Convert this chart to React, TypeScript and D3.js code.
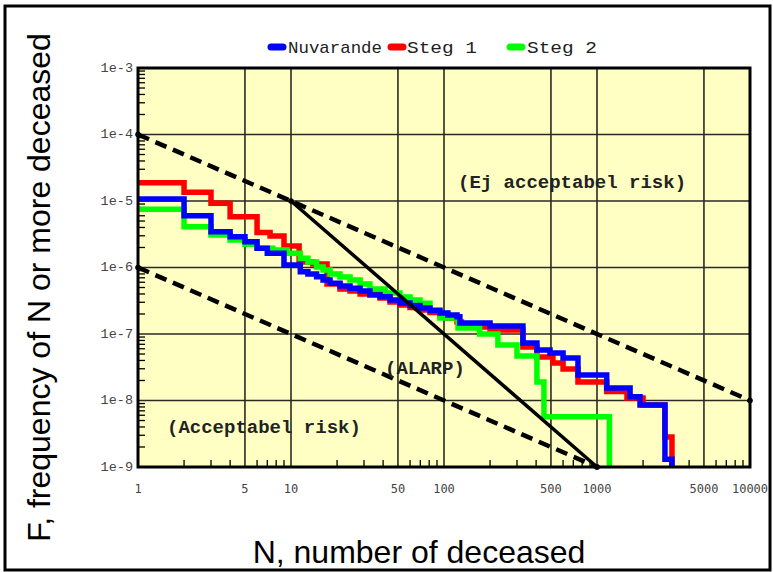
import React from "react";
import * as d3 from "d3";

const N_BLUE = [1, 2, 3, 4, 5, 6, 7, 9, 11.5, 12.9, 14.7, 16.2, 18, 20.9, 24.3, 28.3, 32.8, 38.2, 44.4, 51.5, 60, 69.7, 81, 94, 106, 121.7, 127, 200, 328, 405, 493, 600, 751, 1157, 1645, 1910, 2780, 3090];
const F_BLUE = [1.07e-5, 6.0e-6, 3.45e-6, 2.9e-6, 2.44e-6, 1.95e-6, 1.64e-6, 1.09e-6, 8.65e-7, 7.98e-7, 7.27e-7, 6.49e-7, 5.78e-7, 5.27e-7, 4.86e-7, 4.43e-7, 3.86e-7, 3.64e-7, 3.25e-7, 2.92e-7, 2.68e-7, 2.46e-7, 2.25e-7, 2.07e-7, 1.93e-7, 1.82e-7, 1.46e-7, 1.32e-7, 7.33e-8, 5.75e-8, 5.18e-8, 4.36e-8, 2.42e-8, 1.54e-8, 1.14e-8, 8.55e-9, 1.31e-9, 1e-9];

const N_RED = [1, 2, 3, 4, 6, 7.3, 9, 11.3, 13.9, 17.2, 20.9, 24.3, 28.3, 38.2, 44.4, 51.5, 60, 69.7, 81, 94, 106, 121.7, 130, 200, 328, 405, 515, 600, 751, 1157, 1570, 2000, 2780, 3090];
const F_RED = [1.88e-5, 1.35e-5, 9.23e-6, 5.81e-6, 3.36e-6, 2.98e-6, 2.1e-6, 1.21e-6, 1.13e-6, 5.65e-7, 4.75e-7, 4.43e-7, 4.0e-7, 3.48e-7, 3.03e-7, 2.73e-7, 2.5e-7, 2.3e-7, 2.1e-7, 1.93e-7, 1.74e-7, 1.51e-7, 1.27e-7, 1.15e-7, 6.38e-8, 4.51e-8, 3.66e-8, 2.98e-8, 1.9e-8, 1.36e-8, 1.09e-8, 8.55e-9, 2.82e-9, 1e-9];

const N_GREEN = [1, 2, 3, 4, 5, 6, 7.6, 9.4, 11.5, 12.9, 14.7, 16.2, 18, 20.9, 24.3, 28.3, 32.8, 41.2, 51.5, 60, 69.7, 81, 94, 123.5, 171, 225, 300, 405, 450, 1205];
const F_GREEN = [7.5e-6, 4.11e-6, 3.08e-6, 2.59e-6, 2.23e-6, 1.95e-6, 1.83e-6, 1.64e-6, 1.38e-6, 1.21e-6, 1.02e-6, 9.16e-7, 7.98e-7, 7.19e-7, 6.49e-7, 5.65e-7, 4.75e-7, 4.14e-7, 3.6e-7, 3.25e-7, 2.9e-7, 2.3e-7, 1.74e-7, 1.23e-7, 1.0e-7, 6.84e-8, 4.67e-8, 1.9e-8, 5.7e-9, 1e-9];

const SERIES_NAMES = ["Nuvarande", "Steg 1", "Steg 2"];
const SERIES_COLORS = ["#0000ff", "#ff0000", "#00ff00"];

const X_TICKS = [1, 5, 10, 50, 100, 500, 1000, 5000, 10000];
const X_TICK_LABELS = ["1", "5", "10", "50", "100", "500", "1000", "5000", "10000"];
const Y_TICKS = [1e-3, 1e-4, 1e-5, 1e-6, 1e-7, 1e-8, 1e-9];
const Y_TICK_LABELS = ["1e-3", "1e-4", "1e-5", "1e-6", "1e-7", "1e-8", "1e-9"];

// criteria lines [N, F]
const UPPER_LINE = [[1, 1e-4], [10000, 1e-8]];
const LOWER_LINE = [[1, 1e-6], [1000, 1e-9]];
const SOLID_LINE = [[10, 1e-5], [1000, 1e-9]];

const W = 773, H = 572;
const L = 138, R = 750, T = 68, B = 467;

export default function App() {
  const x = d3.scaleLog().domain([1, 10000]).range([L, R]);
  const y = d3.scaleLog().domain([1e-9, 1e-3]).range([B, T]);
  const step = d3.line<number[]>().x(d => x(d[0])).y(d => y(d[1])).curve(d3.curveStepAfter);
  const straight = d3.line<number[]>().x(d => x(d[0])).y(d => y(d[1]));

  const series = [
    { n: N_RED, f: F_RED, c: SERIES_COLORS[1] },
    { n: N_GREEN, f: F_GREEN, c: SERIES_COLORS[2] },
    { n: N_BLUE, f: F_BLUE, c: SERIES_COLORS[0] },
  ];

  const minorX: number[] = [];
  for (let d = 1; d < 10000; d *= 10) for (let k = 2; k <= 9; k++) if (k !== 5) minorX.push(d * k);
  const minorY: number[] = [];
  for (let d = 1e-9; d < 1e-3 * 0.99; d *= 10) for (let k = 2; k <= 9; k++) minorY.push(d * k);

  const gridX = [5, 10, 50, 100, 500, 1000, 5000];
  const gridY = [1e-4, 1e-5, 1e-6, 1e-7, 1e-8];

  const legend = [
    { i: 0, mx: 268, tx: 288, tl: 94 },
    { i: 1, mx: 388, tx: 407, tl: 70 },
    { i: 2, mx: 507, tx: 527, tl: 70 },
  ];

  return (
    <svg width={W} height={H} style={{ position: "absolute", left: 0, top: 0, display: "block", background: "#fff" }}>
      <rect x={5} y={6} width={765} height={564} fill="none" stroke="#000" strokeWidth={3} />
      <rect x={L} y={T} width={R - L} height={B - T} fill="#ffffc4" />
      {gridX.map(v => (
        <line key={"gx" + v} x1={x(v)} x2={x(v)} y1={T} y2={B} stroke="#2a2a20" strokeWidth={1.6} />
      ))}
      {gridY.map(v => (
        <line key={"gy" + v} x1={L} x2={R} y1={y(v)} y2={y(v)} stroke="#2a2a20" strokeWidth={1.6} />
      ))}
      {minorX.map(v => (
        <line key={"mx" + v} x1={x(v)} x2={x(v)} y1={B} y2={B - 7} stroke="#000" strokeWidth={1.3} />
      ))}
      {minorY.map(v => (
        <line key={"my" + v} x1={L} x2={L + 7} y1={y(v)} y2={y(v)} stroke="#000" strokeWidth={1.3} />
      ))}
      {series.map((s, i) => (
        <path key={"s" + i} d={step(s.n.map((n, j) => [n, s.f[j]])) || ""} fill="none" stroke={s.c} strokeWidth={5.5} strokeLinejoin="miter" />
      ))}
      <path d={straight(UPPER_LINE) || ""} fill="none" stroke="#000" strokeWidth={4.5} strokeDasharray="12 7" />
      <path d={straight(LOWER_LINE) || ""} fill="none" stroke="#000" strokeWidth={4.5} strokeDasharray="12 7" />
      <path d={straight(SOLID_LINE) || ""} fill="none" stroke="#000" strokeWidth={3.5} />
      {[...UPPER_LINE, ...LOWER_LINE, ...SOLID_LINE].map((p, i) => (
        <circle key={"e" + i} cx={x(p[0])} cy={y(p[1])} r={2.8} fill="#000" />
      ))}
      <rect x={L} y={T} width={R - L} height={B - T} fill="none" stroke="#000" strokeWidth={3} />
      {X_TICKS.map((v, i) => (
        <text key={"xl" + v} x={x(v)} y={493} textAnchor="middle" fontFamily="DejaVu Sans Mono" fontSize={12} fill="#444">{X_TICK_LABELS[i]}</text>
      ))}
      {Y_TICKS.map((v, i) => (
        <text key={"yl" + v} x={133} y={y(v)} textAnchor="end" dominantBaseline="middle" fontFamily="Liberation Mono" fontSize={13.5} fill="#444">{Y_TICK_LABELS[i]}</text>
      ))}
      {legend.map(l => (
        <g key={"lg" + l.i}>
          <line x1={l.mx + 3} x2={l.mx + 15} y1={47} y2={47} stroke={SERIES_COLORS[l.i]} strokeWidth={7} strokeLinecap="round" />
          <text x={l.tx} y={53} fontFamily="Liberation Mono" fontSize={17} fill="#222" textLength={l.tl} lengthAdjust="spacingAndGlyphs">{SERIES_NAMES[l.i]}</text>
        </g>
      ))}
      <text x={458} y={188} fontFamily="Liberation Mono" fontWeight="bold" fontSize={19} fill="#222">(Ej acceptabel risk)</text>
      <text x={385} y={374} fontFamily="Liberation Mono" fontWeight="bold" fontSize={19} fill="#222">(ALARP)</text>
      <text x={167} y={433} fontFamily="Liberation Mono" fontWeight="bold" fontSize={19} fill="#222">(Acceptabel risk)</text>
      <text x={419} y={563} textAnchor="middle" fontFamily="Liberation Sans" fontSize={32} fill="#000">N, number of deceased</text>
      <text transform="translate(50,287.5) rotate(-90)" textAnchor="middle" fontFamily="Liberation Sans" fontSize={32} fill="#000">F, frequency of N or more deceased</text>
    </svg>
  );
}
